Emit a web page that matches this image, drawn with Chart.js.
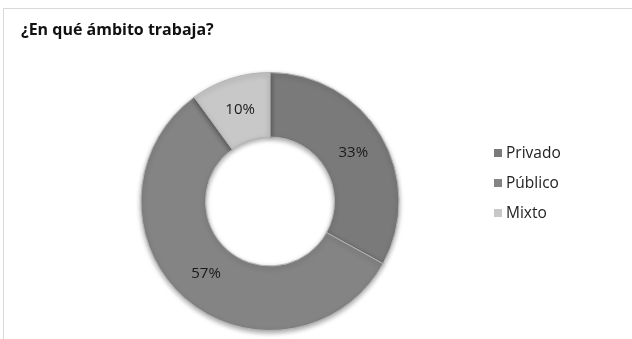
<!DOCTYPE html>
<html>
<head>
<meta charset="utf-8">
<script src="https://cdn.jsdelivr.net/npm/chart.js@4/dist/chart.umd.min.js"></script>
<style>
  html, body { margin: 0; padding: 0; background: #fff; }
  .frame {
    position: relative;
    width: 632px; height: 339px;
    overflow: hidden;
    font-family: "Open Sans", "Liberation Sans", sans-serif;
  }
  .box {
    position: absolute; left: 3px; top: 8px; right: -2px; bottom: -2px;
    border-top: 1px solid #d9d9d9; border-left: 1px solid #d9d9d9;
  }
  #chart { position: absolute; left: 0; top: 0; }
  .title {
    position: absolute; left: 21px; top: 18px;
    font-size: 16px; font-weight: bold; color: #111;
  }
  .legend { position: absolute; left: 494px; top: 142px; }
  .legend div {
    height: 30px; line-height: 21px; font-size: 15.5px; color: #222;
  }
  .legend span {
    display: inline-block; width: 8px; height: 8px; margin-right: 4px;
    vertical-align: 1px;
  }
</style>
</head>
<body>
<div class="frame">
  <div class="box"></div>
  <canvas id="chart" width="632" height="339"></canvas>
  <div class="title">¿En qué ámbito trabaja?</div>
  <div class="legend" id="legend"></div>
</div>
<script>
// Respuestas por ámbito de trabajo (%)
const categories = ['Privado', 'Público', 'Mixto'];
const shares = [33, 57, 10];
const sliceColors = ['#7a7a7a', '#848484', '#c8c8c8'];

// Percent labels in the middle of each ring segment
const sliceLabels = {
    id: 'sliceLabels',
    afterDatasetsDraw(chart) {
        const ctx = chart.ctx;
        const meta = chart.getDatasetMeta(0);
        ctx.save();
        ctx.font = '15px "Open Sans", "Liberation Sans", sans-serif';
        ctx.fillStyle = '#1a1a1a';
        ctx.textAlign = 'center';
        ctx.textBaseline = 'middle';
        meta.data.forEach((arc, i) => {
            const p = arc.getCenterPoint();
            ctx.fillText(shares[i] + '%', p.x, p.y);
        });
        ctx.restore();
    }
};

// Soft drop shadow under the ring
const ringShadow = {
    id: 'ringShadow',
    beforeDatasetsDraw(chart) {
        const ctx = chart.ctx;
        ctx.save();
        ctx.shadowColor = 'rgba(0, 0, 0, 0.35)';
        ctx.shadowBlur = 5;
        ctx.shadowOffsetY = 2;
    },
    afterDatasetsDraw(chart) {
        chart.ctx.restore();
    }
};

const ctx = document.getElementById('chart').getContext('2d');
const chart = new Chart(ctx, {
    type: 'doughnut',
    data: {
        labels: categories,
        datasets: [{
            data: shares,
            backgroundColor: sliceColors,
            borderColor: '#b4b4b4',
            borderWidth: 1
        }]
    },
    options: {
        responsive: false,
        animation: false,
        cutout: '50%',
        layout: {
            padding: { left: 0, right: 92, top: 72, bottom: 8 }
        },
        plugins: {
            legend: { display: false },
            title: { display: false },
            tooltip: { enabled: false }
        }
    },
    plugins: [ringShadow, sliceLabels]
});

// Legend entries
const legendEl = document.getElementById('legend');
categories.forEach((name, i) => {
    const row = document.createElement('div');
    const swatch = document.createElement('span');
    swatch.style.background = sliceColors[i];
    row.appendChild(swatch);
    row.appendChild(document.createTextNode(name));
    legendEl.appendChild(row);
});
</script>
</body>
</html>
